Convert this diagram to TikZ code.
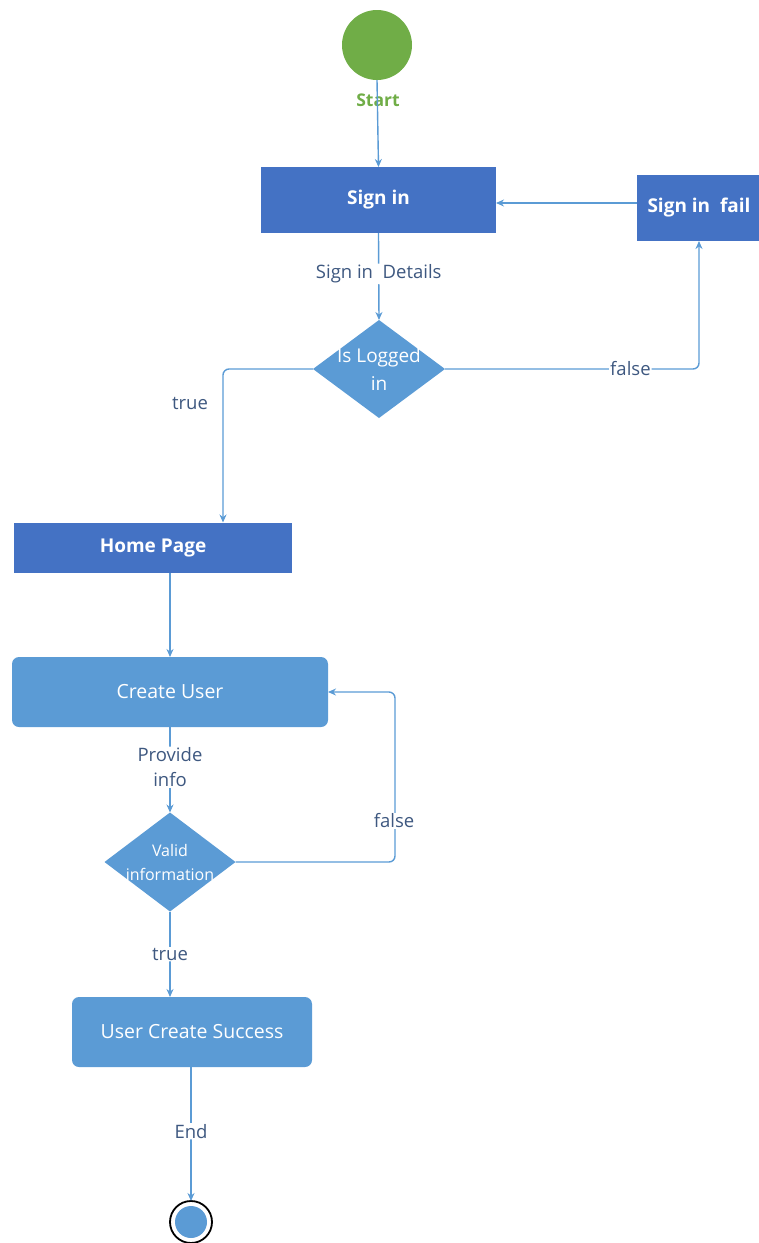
\documentclass[tikz,border=0pt]{standalone}
\usepackage{fontspec}
\setmainfont{Open Sans}
\usetikzlibrary{shapes.geometric,arrows.meta}
\definecolor{darkbox}{RGB}{68,114,196}
\definecolor{lightbox}{RGB}{91,155,213}
\definecolor{startgreen}{RGB}{112,173,71}
\definecolor{labelc}{RGB}{62,88,128}
\tikzset{
  every node/.style={inner sep=0pt, outer sep=0pt},
  darkrect/.style={rectangle, fill=darkbox, text=white, font=\fontsize{19}{22}\selectfont\bfseries},
  lightrect/.style={rectangle, rounded corners=7pt, fill=lightbox, text=white, font=\fontsize{19.5}{22}\selectfont},
  decision/.style={diamond, fill=lightbox},
  dtext/.style={text=white, align=center},
  conn/.style={draw=lightbox, line width=1.4pt, -{Stealth[length=8pt,width=7pt]}, rounded corners=6pt},
  lbl/.style={fill=white, text=labelc, font=\fontsize{18.5}{22}\selectfont, align=center, inner sep=1pt},
}
\begin{document}
\begin{tikzpicture}[x=1pt,y=-1pt]
\useasboundingbox (0,0) rectangle (759,1243);
% start
\node[circle, fill=startgreen, minimum size=70pt] (start) at (377,45) {};
\node[text=startgreen, font=\fontsize{17.5}{20}\selectfont\bfseries] (startl) at (378,100) {Start};
% boxes
\node[darkrect, minimum width=235pt, minimum height=66pt] (signin) at (378.5,200) {Sign in};
\node[darkrect, minimum width=124pt, minimum height=66pt] (fail) at (699,208) {Sign in\ \ fail};
\node[decision, minimum width=132pt, minimum height=98pt] (logged) at (379,369) {};
\node[dtext, font=\fontsize{19}{28}\selectfont] (loggedt) at (379,369) {Is Logged\\in};
\node[darkrect, minimum width=278pt, minimum height=50pt] (home) at (153,548) {Home Page};
\node[lightrect, minimum width=316pt, minimum height=70pt] (create) at (170,692) {Create User};
\node[decision, minimum width=131pt, minimum height=99pt] (valid) at (170,862) {};
\node[dtext, font=\fontsize{16}{24}\selectfont] (validt) at (170,862) {Valid\\information};
\node[lightrect, minimum width=240pt, minimum height=70pt] (success) at (192,1032) {User Create Success};
\node[circle, draw=black, line width=1.8pt, fill=white, minimum size=42pt] (endc) at (191,1222) {};
\node[circle, fill=lightbox, minimum size=32pt] (endin) at (191,1222) {};
% connectors
\draw[conn] (start.south) -- (signin.north);
\draw[conn] (fail.west |- 0,203) -- (signin.east |- 0,203);
\draw[conn] (signin.south) -- node[lbl, pos=0.47] {Sign in\ \ Details} (logged.north);
\draw[conn] (logged.east) -- (fail.south |- logged.east) node[lbl, pos=0.73] {false} -- (fail.south);
\draw[conn] (logged.west) -- (223,369) -- (223,522.5);
\node[lbl] (truel) at (190,403) {true};
\draw[conn] (home.south -| 170,0) -- (create.north);
\draw[conn] (create.south) -- node[lbl, pos=0.47, font=\fontsize{18.5}{25}\selectfont] {Provide\\info} (valid.north);
\draw[conn] (valid.east) -- (395,862) -- (395,692) -- (create.east);
\node[lbl] (falsel2) at (394,821) {false};
\draw[conn] (valid.south) -- node[lbl, pos=0.5] {true} (success.north -| 170,0);
\draw[conn] (success.south -| 191,0) -- node[lbl, pos=0.48] {End} (endc.north);
\end{tikzpicture}
\end{document}
